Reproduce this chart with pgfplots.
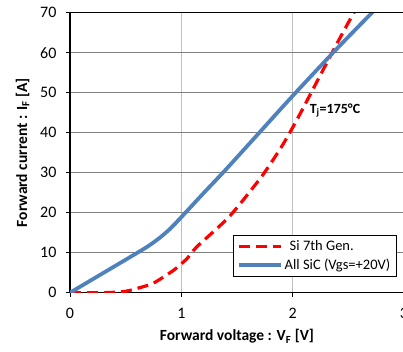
\documentclass[border=0pt]{standalone}
\usepackage{fontspec}
\setmainfont{Carlito}
\usepackage{pgfplots}
\pgfplotsset{compat=1.18}
\definecolor{sicblue}{HTML}{4F81BD}
\begin{document}
\begin{tikzpicture}
\path[use as bounding box] (-70pt,-59.3pt) rectangle (333pt,292.7pt);
\begin{axis}[
  at={(0pt,0pt)}, anchor=south west,
  scale only axis, width=334pt, height=280pt,
  xmin=0, xmax=3, ymin=0, ymax=70,
  xtick={0,1,2,3}, ytick={0,10,...,70},
  axis line style={black, line width=1.6pt},
  axis x line*=bottom, axis y line*=left,
  grid=major,
  x grid style={black!25, line width=1pt},
  y grid style={black!50, line width=1pt},
  tick style={black, line width=0.8pt},
  tick align=outside, major tick length=4pt,
  xtick pos=bottom, ytick pos=left,
  ticklabel style={font=\fontsize{16}{19}\selectfont},
  /pgf/number format/assume math mode=true,
  xticklabel style={yshift=-8pt},
  yticklabel style={xshift=-6pt},
  xlabel={\textbf{Forward voltage : V\textsubscript{F} [V]}},
  ylabel={\textbf{Forward current : I\textsubscript{F} [A]}},
  label style={font=\fontsize{15.5}{19}\selectfont},
  xlabel style={yshift=-4pt},
  ylabel style={yshift=4pt},
  legend style={at={(axis cs:1.46,14.4)}, anchor=north west, draw=black, line width=0.8pt,
     fill=white, font=\fontsize{14.5}{18}\selectfont, inner xsep=4pt, inner ysep=3pt,
     row sep=3pt},
  legend cell align=left,
  legend image code/.code={\draw[#1] (0pt,0pt) -- (42pt,0pt);},
  clip=true,
]
\addplot[red, line width=3.2pt, dash pattern=on 11pt off 6pt, smooth, tension=0.4] coordinates {
(0,0) (0.2,0) (0.36,0.05) (0.5,0.35) (0.62,1.2) (0.75,2.4) (0.93,5.6) (1.05,8.5) (1.14,11.5)
(1.43,19) (1.72,29) (1.9,36.5) (2.02,42.3) (2.14,48.6) (2.29,56.6) (2.40,62.4) (2.49,67) (2.56,70.5)
};
\addlegendentry{\hspace{5pt}Si 7th Gen.}
\addplot[sicblue, line width=3.8pt, smooth, tension=0.5] coordinates {
(0,0) (0.2,3.3) (0.4,6.6) (0.6,9.9) (0.7,11.6) (0.8,13.6) (0.9,16.0) (1.0,18.9) (1.2,24.9) (1.4,30.8)
(1.7,40) (2.0,49.2) (2.38,60.5) (2.73,70.5)
};
\addlegendentry{All SiC (Vgs=+20V)}
\draw[black, line width=1.2pt] (axis cs:0,70) -- (axis cs:3,70);
\node[font=\fontsize{14}{16}\selectfont\bfseries] at (axis cs:2.38,45.6) {T\textsubscript{j}=175°C};
\end{axis}
\end{tikzpicture}
\end{document}
